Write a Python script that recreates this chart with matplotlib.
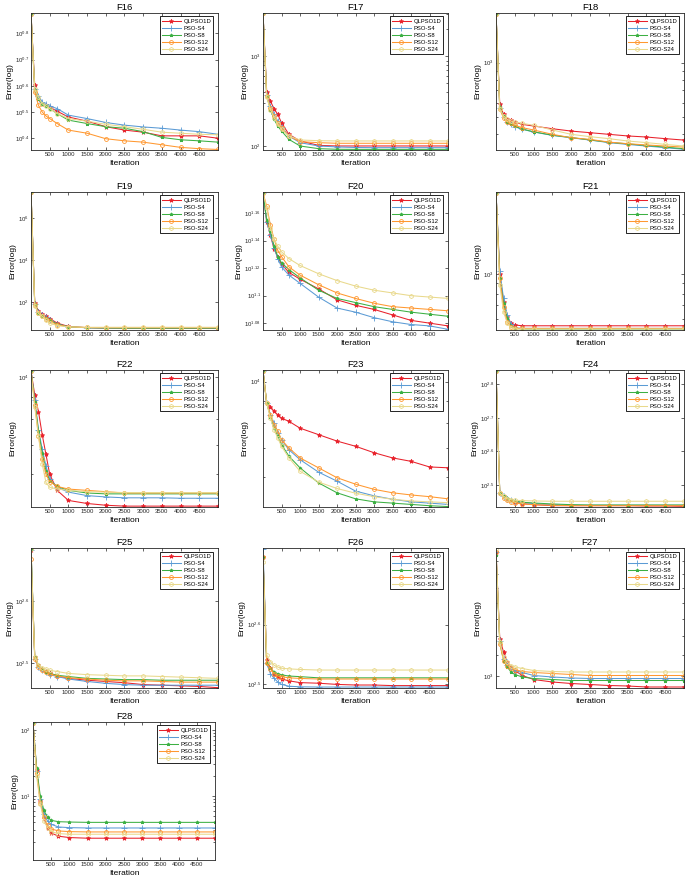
import matplotlib
matplotlib.use("Agg")
import matplotlib.pyplot as plt
import matplotlib.ticker as mticker
import numpy as np

plt.rcParams["font.family"] = ["Liberation Sans", "DejaVu Sans"]
plt.rcParams["mathtext.fontset"] = "custom"
plt.rcParams["mathtext.rm"] = "Liberation Sans"
plt.rcParams["mathtext.it"] = "Liberation Sans:italic"

iters = [1, 100, 200, 300, 400, 500, 700, 1000, 1500, 2000, 2500, 3000, 3500, 4000, 4500, 5000]

algos = ["QLPSO1D", "PSO-S4", "PSO-S8", "PSO-S12", "PSO-S24"]

# log10(error) per panel, order = algos
f16 = [
    [0.875, 0.602, 0.550, 0.531, 0.525, 0.519, 0.503, 0.481, 0.465, 0.444, 0.431, 0.423, 0.409, 0.409, 0.409, 0.400],
    [0.875, 0.588, 0.563, 0.538, 0.530, 0.523, 0.513, 0.488, 0.475, 0.460, 0.450, 0.443, 0.438, 0.431, 0.425, 0.415],
    [0.875, 0.585, 0.550, 0.531, 0.523, 0.513, 0.494, 0.469, 0.456, 0.444, 0.438, 0.425, 0.403, 0.394, 0.390, 0.385],
    [0.875, 0.578, 0.525, 0.500, 0.485, 0.475, 0.456, 0.431, 0.419, 0.398, 0.390, 0.385, 0.375, 0.365, 0.360, 0.357],
    [0.875, 0.588, 0.556, 0.531, 0.523, 0.513, 0.494, 0.475, 0.465, 0.453, 0.444, 0.434, 0.423, 0.419, 0.415, 0.413],
]
f17 = [
    [3.48, 2.604, 2.500, 2.415, 2.352, 2.259, 2.130, 2.056, 2.007, 2.000, 2.000, 2.000, 2.000, 2.000, 2.000, 2.000],
    [3.48, 2.574, 2.444, 2.352, 2.278, 2.215, 2.111, 2.037, 2.000, 1.989, 1.983, 1.981, 1.981, 1.981, 1.981, 1.981],
    [3.48, 2.556, 2.407, 2.296, 2.222, 2.167, 2.074, 2.000, 1.970, 1.963, 1.962, 1.962, 1.962, 1.962, 1.962, 1.962],
    [3.48, 2.556, 2.426, 2.333, 2.259, 2.204, 2.111, 2.048, 2.037, 2.030, 2.030, 2.030, 2.030, 2.030, 2.030, 2.030],
    [3.48, 2.548, 2.407, 2.315, 2.241, 2.185, 2.111, 2.067, 2.059, 2.056, 2.056, 2.056, 2.056, 2.056, 2.056, 2.056],
]
f18 = [
    [3.272, 2.769, 2.713, 2.689, 2.681, 2.670, 2.657, 2.648, 2.633, 2.620, 2.611, 2.602, 2.593, 2.587, 2.578, 2.570],
    [3.272, 2.750, 2.700, 2.670, 2.657, 2.644, 2.630, 2.615, 2.596, 2.583, 2.570, 2.556, 2.546, 2.537, 2.528, 2.519],
    [3.272, 2.752, 2.702, 2.672, 2.659, 2.646, 2.631, 2.616, 2.597, 2.584, 2.571, 2.558, 2.549, 2.540, 2.531, 2.522],
    [3.272, 2.741, 2.694, 2.670, 2.663, 2.652, 2.639, 2.626, 2.602, 2.583, 2.574, 2.559, 2.550, 2.543, 2.537, 2.531],
    [3.272, 2.744, 2.704, 2.685, 2.676, 2.670, 2.663, 2.652, 2.626, 2.602, 2.589, 2.578, 2.565, 2.556, 2.546, 2.537],
]
f19 = [
    [7.24, 1.95, 1.55, 1.40, 1.30, 1.20, 0.98, 0.82, 0.76, 0.74, 0.73, 0.73, 0.73, 0.73, 0.73, 0.72],
    [7.24, 1.90, 1.50, 1.36, 1.25, 1.14, 0.94, 0.80, 0.76, 0.74, 0.74, 0.74, 0.74, 0.74, 0.74, 0.74],
    [7.24, 1.88, 1.48, 1.34, 1.22, 1.12, 0.93, 0.80, 0.76, 0.75, 0.74, 0.74, 0.74, 0.74, 0.74, 0.74],
    [7.24, 1.85, 1.46, 1.32, 1.20, 1.08, 0.90, 0.80, 0.77, 0.76, 0.76, 0.76, 0.76, 0.76, 0.76, 0.76],
    [7.24, 1.82, 1.44, 1.30, 1.12, 0.98, 0.86, 0.80, 0.78, 0.78, 0.78, 0.78, 0.78, 0.78, 0.78, 0.78],
]
f20 = [
    [1.175, 1.154, 1.144, 1.134, 1.128, 1.123, 1.117, 1.112, 1.105, 1.097, 1.093, 1.090, 1.086, 1.082, 1.080, 1.078],
    [1.175, 1.154, 1.144, 1.135, 1.127, 1.121, 1.115, 1.109, 1.099, 1.091, 1.088, 1.084, 1.081, 1.079, 1.078, 1.0755],
    [1.175, 1.155, 1.147, 1.136, 1.1285, 1.124, 1.119, 1.113, 1.104, 1.098, 1.095, 1.092, 1.090, 1.088, 1.0865, 1.085],
    [1.175, 1.165, 1.1515, 1.141, 1.133, 1.1285, 1.121, 1.115, 1.108, 1.102, 1.098, 1.0945, 1.092, 1.091, 1.090, 1.089],
    [1.175, 1.1636, 1.149, 1.141, 1.136, 1.132, 1.127, 1.122, 1.116, 1.111, 1.107, 1.104, 1.102, 1.100, 1.099, 1.098],
]
f21 = [
    [3.405, 3.000, 2.863, 2.788, 2.755, 2.747, 2.743, 2.743, 2.743, 2.743, 2.743, 2.743, 2.743, 2.743, 2.743, 2.743],
    [3.405, 3.013, 2.880, 2.797, 2.750, 2.733, 2.730, 2.730, 2.730, 2.730, 2.730, 2.730, 2.730, 2.730, 2.730, 2.730],
    [3.405, 2.980, 2.855, 2.780, 2.743, 2.730, 2.727, 2.727, 2.727, 2.727, 2.727, 2.727, 2.727, 2.727, 2.727, 2.727],
    [3.405, 2.980, 2.838, 2.763, 2.738, 2.730, 2.730, 2.730, 2.730, 2.730, 2.730, 2.730, 2.730, 2.730, 2.730, 2.730],
    [3.405, 2.947, 2.813, 2.755, 2.733, 2.727, 2.727, 2.727, 2.727, 2.727, 2.727, 2.727, 2.727, 2.727, 2.727, 2.727],
]
f22 = [
    [4.0135, 3.959, 3.921, 3.868, 3.823, 3.778, 3.741, 3.718, 3.711, 3.707, 3.705, 3.705, 3.705, 3.705, 3.705, 3.705],
    [4.0135, 3.947, 3.880, 3.835, 3.797, 3.767, 3.748, 3.737, 3.729, 3.726, 3.724, 3.724, 3.724, 3.723, 3.723, 3.723],
    [4.0135, 3.944, 3.876, 3.827, 3.786, 3.763, 3.750, 3.741, 3.735, 3.733, 3.733, 3.733, 3.733, 3.733, 3.733, 3.733],
    [4.0135, 3.936, 3.866, 3.812, 3.778, 3.761, 3.750, 3.744, 3.741, 3.738, 3.735, 3.735, 3.735, 3.735, 3.735, 3.735],
    [4.0135, 3.932, 3.865, 3.801, 3.759, 3.748, 3.744, 3.741, 3.738, 3.737, 3.736, 3.736, 3.736, 3.736, 3.736, 3.736],
]
f23 = [
    [4.025, 3.950, 3.942, 3.931, 3.923, 3.915, 3.908, 3.892, 3.877, 3.862, 3.850, 3.835, 3.823, 3.815, 3.802, 3.800],
    [4.025, 3.950, 3.923, 3.904, 3.881, 3.865, 3.842, 3.819, 3.790, 3.769, 3.746, 3.735, 3.727, 3.721, 3.718, 3.715],
    [4.025, 3.950, 3.919, 3.892, 3.873, 3.854, 3.827, 3.800, 3.765, 3.742, 3.728, 3.721, 3.718, 3.715, 3.712, 3.710],
    [4.025, 3.950, 3.923, 3.900, 3.885, 3.865, 3.846, 3.823, 3.800, 3.777, 3.762, 3.750, 3.742, 3.737, 3.733, 3.728],
    [4.025, 3.950, 3.915, 3.888, 3.869, 3.850, 3.823, 3.792, 3.767, 3.752, 3.741, 3.733, 3.727, 3.723, 3.721, 3.719],
]
f24 = [
    [2.839, 2.478, 2.467, 2.459, 2.455, 2.449, 2.445, 2.442, 2.439, 2.439, 2.439, 2.439, 2.439, 2.438, 2.438, 2.437],
    [2.839, 2.478, 2.467, 2.459, 2.455, 2.452, 2.449, 2.445, 2.442, 2.440, 2.440, 2.440, 2.440, 2.440, 2.440, 2.440],
    [2.839, 2.478, 2.469, 2.462, 2.457, 2.452, 2.449, 2.447, 2.444, 2.442, 2.441, 2.441, 2.441, 2.441, 2.441, 2.441],
    [2.839, 2.476, 2.462, 2.455, 2.451, 2.447, 2.444, 2.442, 2.440, 2.439, 2.439, 2.439, 2.439, 2.439, 2.439, 2.439],
    [2.839, 2.476, 2.467, 2.459, 2.457, 2.455, 2.454, 2.453, 2.452, 2.452, 2.452, 2.452, 2.452, 2.452, 2.452, 2.452],
]
f25 = [
    [2.682, 2.511, 2.497, 2.491, 2.488, 2.484, 2.480, 2.476, 2.473, 2.471, 2.469, 2.466, 2.465, 2.464, 2.463, 2.461],
    [2.682, 2.508, 2.495, 2.489, 2.486, 2.482, 2.479, 2.475, 2.471, 2.468, 2.466, 2.465, 2.465, 2.465, 2.465, 2.465],
    [2.6845, 2.511, 2.497, 2.491, 2.487, 2.484, 2.481, 2.479, 2.476, 2.475, 2.474, 2.474, 2.473, 2.473, 2.473, 2.473],
    [2.668, 2.508, 2.495, 2.489, 2.486, 2.483, 2.480, 2.477, 2.475, 2.473, 2.472, 2.472, 2.471, 2.470, 2.470, 2.470],
    [2.6845, 2.511, 2.498, 2.493, 2.491, 2.489, 2.487, 2.484, 2.482, 2.481, 2.480, 2.480, 2.479, 2.478, 2.477, 2.476],
]
f26 = [
    [2.713, 2.541, 2.527, 2.518, 2.513, 2.509, 2.506, 2.503, 2.502, 2.500, 2.499, 2.499, 2.498, 2.498, 2.498, 2.498],
    [2.727, 2.535, 2.518, 2.510, 2.504, 2.500, 2.497, 2.496, 2.4956, 2.4956, 2.4956, 2.4956, 2.4956, 2.4956, 2.4956, 2.4956],
    [2.713, 2.535, 2.527, 2.521, 2.518, 2.516, 2.514, 2.513, 2.511, 2.511, 2.511, 2.511, 2.511, 2.511, 2.511, 2.511],
    [2.713, 2.535, 2.526, 2.518, 2.514, 2.513, 2.511, 2.510, 2.509, 2.509, 2.509, 2.509, 2.509, 2.509, 2.509, 2.509],
    [2.704, 2.549, 2.538, 2.532, 2.529, 2.527, 2.526, 2.525, 2.524, 2.524, 2.524, 2.524, 2.524, 2.524, 2.524, 2.524],
]
f27 = [
    [3.249, 3.075, 3.048, 3.028, 3.018, 3.011, 3.001, 2.993, 2.988, 2.985, 2.983, 2.981, 2.980, 2.978, 2.978, 2.978],
    [3.249, 3.071, 3.035, 3.023, 3.016, 3.011, 3.007, 3.001, 2.998, 2.996, 2.995, 2.995, 2.995, 2.995, 2.995, 2.995],
    [3.243, 3.068, 3.031, 3.018, 3.008, 3.003, 2.998, 2.995, 2.993, 2.991, 2.991, 2.991, 2.991, 2.991, 2.991, 2.991],
    [3.249, 3.065, 3.031, 3.021, 3.016, 3.013, 3.009, 3.007, 3.005, 3.003, 3.001, 3.001, 3.001, 3.001, 3.001, 3.001],
    [3.255, 3.068, 3.038, 3.028, 3.021, 3.018, 3.015, 3.011, 3.009, 3.008, 3.008, 3.008, 3.008, 3.008, 3.008, 3.008],
]
f28 = [
    [2.10, 1.40, 0.92, 0.66, 0.52, 0.44, 0.39, 0.37, 0.36, 0.36, 0.36, 0.36, 0.36, 0.36, 0.36, 0.36],
    [2.10, 1.38, 0.95, 0.72, 0.62, 0.57, 0.53, 0.52, 0.515, 0.515, 0.515, 0.515, 0.515, 0.515, 0.515, 0.515],
    [2.10, 1.42, 1.00, 0.78, 0.68, 0.63, 0.61, 0.605, 0.60, 0.60, 0.60, 0.60, 0.60, 0.60, 0.60, 0.60],
    [2.10, 1.35, 0.90, 0.68, 0.56, 0.50, 0.47, 0.46, 0.455, 0.455, 0.455, 0.455, 0.455, 0.455, 0.455, 0.455],
    [2.10, 1.30, 0.88, 0.62, 0.52, 0.46, 0.43, 0.42, 0.42, 0.42, 0.42, 0.42, 0.42, 0.42, 0.42, 0.42],
]

# name, data, y range (log10), labelled exponents, draw minor ticks
panels = [
    ("F16", f16, (0.355, 0.878), [0.4, 0.5, 0.6, 0.7, 0.8], False),
    ("F17", f17, (1.955, 3.485), [2, 3], True),
    ("F18", f18, (2.515, 3.275), [3], True),
    ("F19", f19, (0.65, 7.25), [2, 4, 6], False),
    ("F20", f20, (1.075, 1.1755), [1.08, 1.1, 1.12, 1.14, 1.16], False),
    ("F21", f21, (2.722, 3.408), [3], True),
    ("F22", f22, (3.703, 4.016), [4], True),
    ("F23", f23, (3.709, 4.027), [4], True),
    ("F24", f24, (2.435, 2.842), [2.5, 2.6, 2.7, 2.8], False),
    ("F25", f25, (2.4605, 2.686), [2.5, 2.6], False),
    ("F26", f26, (2.494, 2.728), [2.5, 2.6], False),
    ("F27", f27, (2.976, 3.256), [3], True),
    ("F28", f28, (0.03, 2.12), [1, 2], True),
]

colors = ["#e8212b", "#5b9bd5", "#3cb043", "#ff9830", "#e9d98c"]
markers = ["*", "+", "*", "o", "h"]
msizes = [3.2, 3.8, 2.4, 2.8, 3.0]

# axes boxes in pixels (left, right) per column and (top, bottom) per row
cols = [(31, 218), (263, 448), (496, 684)]
rows = [(13, 150), (192, 330), (370, 507), (548, 688), (722, 860)]

W, H = 685, 885
fig = plt.figure(figsize=(W / 100, H / 100), dpi=100)

for k, (name, data, ylim, dec, minor) in enumerate(panels):
    r, c = divmod(k, 3)
    x0, x1 = cols[c]
    if name == "F28":
        x0, x1 = 33, 215
    y0, y1 = rows[r]
    ax = fig.add_axes([x0 / W, 1 - y1 / H, (x1 - x0) / W, (y1 - y0) / H])

    for i, algo in enumerate(algos):
        vals = 10 ** np.array(data[i])
        mfc = "none" if markers[i] in ("o", "h") else colors[i]
        ax.plot(iters, vals, color=colors[i], lw=0.75, marker=markers[i],
                ms=msizes[i], mfc=mfc, mew=0.6, label=algo)

    ax.set_yscale("log")
    ax.set_xlim(0, 5000)
    ax.set_ylim(10 ** ylim[0], 10 ** ylim[1])
    ax.set_xticks(range(500, 5000, 500))
    ax.yaxis.set_major_locator(mticker.FixedLocator([10 ** d for d in dec]))
    ax.yaxis.set_major_formatter(mticker.FixedFormatter(
        ["$10^{%s}$" % ("%g" % d) for d in dec]))
    if minor:
        ax.yaxis.set_minor_locator(mticker.LogLocator(base=10, subs=np.arange(2, 10)))
    else:
        ax.yaxis.set_minor_locator(mticker.NullLocator())
    ax.yaxis.set_minor_formatter(mticker.NullFormatter())

    ax.tick_params(which="both", direction="in", top=True, right=True,
                   labelsize=4.3, colors="#262626", width=0.5)
    ax.tick_params(which="major", length=2.2, pad=1.5)
    ax.tick_params(which="minor", length=1.2)
    for s in ax.spines.values():
        s.set_linewidth(0.6)
        s.set_color("#262626")

    ax.set_title(name, fontsize=6.8, pad=2.5)
    ax.set_xlabel("Iteration", fontsize=6, labelpad=2)
    ax.set_ylabel("Error(log)", fontsize=6, labelpad=1)

    leg = ax.legend(loc="upper right", bbox_to_anchor=(0.975, 0.975),
                    borderaxespad=0, fontsize=4.2, handlelength=3.2,
                    handletextpad=0.5, labelspacing=0.35, borderpad=0.35,
                    fancybox=False, framealpha=1, edgecolor="black")
    leg.get_frame().set_linewidth(0.6)

fig.savefig("out.png", dpi=100)
